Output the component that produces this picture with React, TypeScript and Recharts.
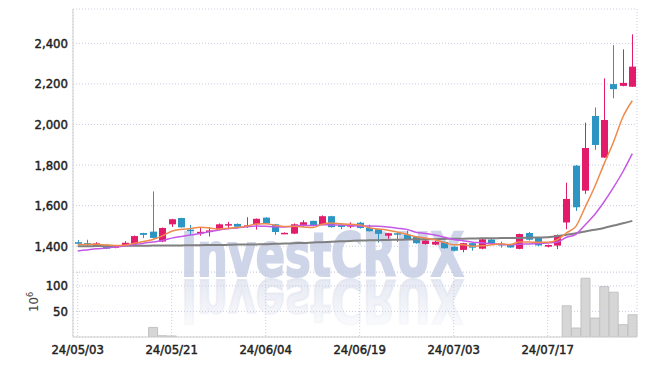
import React from "react";
import { ComposedChart, Bar, Line, XAxis, YAxis, CartesianGrid } from "recharts";

const dates = [
  "24/05/03", "24/05/07", "24/05/08", "24/05/09", "24/05/10", "24/05/13", "24/05/14", "24/05/16", "24/05/17", "24/05/20",
  "24/05/21", "24/05/22", "24/05/23", "24/05/24", "24/05/27", "24/05/28", "24/05/29", "24/05/30", "24/05/31", "24/06/03",
  "24/06/04", "24/06/05", "24/06/07", "24/06/10", "24/06/11", "24/06/12", "24/06/13", "24/06/14", "24/06/17", "24/06/18",
  "24/06/19", "24/06/20", "24/06/21", "24/06/24", "24/06/25", "24/06/26", "24/06/27", "24/06/28", "24/07/01", "24/07/02",
  "24/07/03", "24/07/04", "24/07/05", "24/07/08", "24/07/09", "24/07/10", "24/07/11", "24/07/12", "24/07/15", "24/07/16",
  "24/07/17", "24/07/18", "24/07/19", "24/07/22", "24/07/23", "24/07/24", "24/07/25", "24/07/26", "24/07/29", "24/07/30"
];

const opens = [
  1420, 1415, 1402, 1407, 1393, 1401, 1411, 1465, 1472, 1423,
  1508, 1539, 1482, 1463, 1472, 1482, 1502, 1510, 1495, 1508,
  1541, 1508, 1463, 1462, 1505, 1525, 1505, 1548, 1505, 1500,
  1516, 1490, 1484, 1452, 1464, 1457, 1447, 1411, 1408, 1421,
  1397, 1382, 1415, 1388, 1433, 1412, 1410, 1387, 1465, 1442,
  1398, 1403, 1517, 1797, 1674, 2042, 1837, 2199, 2190, 2186
];
const highs = [
  1430, 1432, 1420, 1410, 1404, 1425, 1453, 1466, 1670, 1492,
  1535, 1540, 1505, 1490, 1495, 1512, 1520, 1512, 1543, 1537,
  1543, 1510, 1468, 1512, 1528, 1526, 1552, 1550, 1507, 1518,
  1520, 1506, 1486, 1466, 1467, 1477, 1450, 1430, 1426, 1424,
  1400, 1417, 1417, 1437, 1436, 1423, 1412, 1462, 1470, 1444,
  1408, 1458, 1713, 1800, 2009, 2084, 2227, 2391, 2370, 2444
];
const lows = [
  1404, 1402, 1398, 1386, 1390, 1399, 1410, 1440, 1438, 1420,
  1495, 1492, 1455, 1452, 1448, 1478, 1489, 1494, 1490, 1482,
  1510, 1456, 1460, 1460, 1495, 1498, 1503, 1492, 1484, 1489,
  1487, 1472, 1418, 1437, 1421, 1430, 1412, 1408, 1405, 1388,
  1375, 1370, 1378, 1385, 1412, 1393, 1392, 1385, 1428, 1400,
  1394, 1386, 1484, 1574, 1658, 1875, 1835, 2129, 2188, 2185
];
const closes = [
  1412, 1407, 1414, 1388, 1400, 1417, 1450, 1456, 1441, 1490,
  1533, 1493, 1476, 1471, 1478, 1508, 1509, 1496, 1503, 1535,
  1512, 1470, 1466, 1508, 1518, 1500, 1548, 1494, 1495, 1504,
  1490, 1474, 1461, 1464, 1460, 1435, 1415, 1428, 1422, 1390,
  1378, 1415, 1393, 1434, 1414, 1404, 1394, 1460, 1432, 1404,
  1406, 1455, 1633, 1592, 1884, 1899, 2022, 2174, 2205, 2285
];

// moving averages
const ma5 = [
  1408, 1409, 1410, 1406, 1404, 1405, 1414, 1423, 1433, 1451,
  1474, 1483, 1487, 1493, 1490, 1485, 1488, 1492, 1499, 1510,
  1511, 1503, 1497, 1498, 1495, 1492, 1508, 1514, 1511, 1508,
  1506, 1491, 1485, 1479, 1470, 1459, 1447, 1440, 1432, 1418,
  1407, 1407, 1400, 1402, 1407, 1412, 1408, 1421, 1421, 1419,
  1419, 1431, 1466, 1498, 1594, 1693, 1806, 1914, 2037, 2117
];
const ma10 = [
  1377, 1382, 1387, 1391, 1396, 1401, 1408, 1415, 1421, 1428,
  1440, 1448, 1455, 1463, 1471, 1480, 1486, 1490, 1496, 1500,
  1498, 1496, 1495, 1499, 1503, 1502, 1506, 1505, 1505, 1502,
  1499, 1500, 1499, 1495, 1489, 1483, 1469, 1463, 1455, 1444,
  1433, 1427, 1420, 1417, 1412, 1409, 1407, 1410, 1411, 1413,
  1416, 1420, 1444, 1459, 1506, 1556, 1619, 1690, 1767, 1856
];
const ma60 = [
  1400, 1400, 1401, 1401, 1401, 1402, 1402, 1402, 1403, 1403,
  1404, 1404, 1405, 1405, 1406, 1406, 1407, 1408, 1408, 1409,
  1410, 1412, 1413, 1415, 1416, 1418, 1420, 1422, 1424, 1426,
  1428, 1429, 1430, 1431, 1432, 1433, 1434, 1434, 1435, 1436,
  1437, 1437, 1438, 1439, 1439, 1440, 1441, 1441, 1442, 1443,
  1444, 1450, 1457, 1464, 1473, 1481, 1490, 1502, 1513, 1525
];

// volume, 10^6
const volumes = [
  0, 0, 0, 0, 0, 0, 0, 0, 18.7, 2.5,
  2, 0, 0, 0, 0, 0, 0, 0, 0, 0,
  0, 0, 0, 0, 0, 0, 0, 0, 0, 0,
  0, 0, 0, 0, 0, 0, 0, 0, 0, 0,
  0, 0, 0, 0, 0, 0, 0, 0, 0, 0,
  0, 0, 61, 17.5, 114.8, 37, 98.4, 87.5, 24, 43.4
];

const tickDates = ["24/05/03", "24/05/21", "24/06/04", "24/06/19", "24/07/03", "24/07/17"];
const priceTicks = [1400, 1600, 1800, 2000, 2200, 2400];
const volTicks = [50, 100];

const rows = dates.map((date, i) => ({
  date,
  open: opens[i],
  high: highs[i],
  low: lows[i],
  close: closes[i],
  range: [lows[i], highs[i]],
  ma5: ma5[i],
  ma10: ma10[i],
  ma60: ma60[i],
  vol: volumes[i]
}));

const UP = "#e31b6b";
const DOWN = "#2c95c4";
const FONT = "'DejaVu Sans Condensed', 'DejaVu Sans', sans-serif";
const GRID = "#c8cce0";
const FRAME = "#cfcfcf";

function Candle(props: any) {
  const { x, y, width, height, payload } = props;
  const { open, close, high, low } = payload;
  const top = Math.min(y, y + height);
  const h = Math.abs(height);
  const k = high > low ? h / (high - low) : 0;
  const color = close >= open ? UP : DOWN;
  const bodyTop = top + (high - Math.max(open, close)) * k;
  const bodyH = Math.max(1.5, Math.abs(open - close) * k);
  const cx = Math.round(x + width / 2) + 0.5;
  const bw = 7;
  return (
    <g>
      <line x1={cx} x2={cx} y1={top} y2={top + h} stroke={color} strokeWidth={1} />
      <rect x={cx - bw / 2} y={bodyTop} width={bw} height={bodyH} fill={color} />
    </g>
  );
}

function Watermark() {
  return (
    <svg width={647} height={366} style={{ position: "absolute", left: 0, top: 0 }}>
      <defs>
        <linearGradient id="fade" x1="0" y1="0" x2="0" y2="1">
          <stop offset="0" stopColor="#e0e4f0" stopOpacity={0} />
          <stop offset="1" stopColor="#e0e4f0" stopOpacity={1} />
        </linearGradient>
        <text id="wm" x={181} y={276} fontFamily="'DejaVu Sans Condensed', 'DejaVu Sans', sans-serif" fontWeight="bold" fontSize={60}
          textLength={283} lengthAdjust="spacingAndGlyphs" strokeWidth={2}>InvestCRUX</text>
      </defs>
      <use href="#wm" fill="#cfd5e8" stroke="#cfd5e8" />
      <use href="#wm" transform="translate(0,556) scale(1,-1)" fill="url(#fade)" stroke="url(#fade)" />
      <text transform="translate(38,312) rotate(-90)" fontFamily={FONT} fontSize={13} fill="#444">
        10<tspan dy={-5} fontSize={9}>6</tspan>
      </text>
    </svg>
  );
}

export default function App() {
  const tickStyle = { fill: "#222", stroke: "#222", strokeWidth: 0.45, fontSize: 13, fontFamily: FONT };
  return (
    <div style={{ position: "absolute", left: 0, top: 0, width: 647, height: 366, background: "#fff" }}>
      <Watermark />
      <div style={{ position: "absolute", left: 0, top: 0 }}>
        <ComposedChart width={647} height={273} data={rows} margin={{ top: 9, right: 10, bottom: 1, left: 0 }} barCategoryGap={0}>
          <CartesianGrid stroke={GRID} strokeDasharray="1 2" />
          <XAxis dataKey="date" orientation="top" height={0} ticks={tickDates} interval={0} tick={false} tickLine={false} axisLine={{ stroke: FRAME }} />
          <XAxis xAxisId="sep" dataKey="date" height={0} tick={false} tickLine={false} axisLine={{ stroke: FRAME }} />
          <YAxis domain={[1273, 2569]} ticks={priceTicks} allowDataOverflow width={73} tickLine={false} tickSize={4} tickMargin={1}
            axisLine={{ stroke: FRAME }} tick={tickStyle} tickFormatter={(v: number) => v.toLocaleString("en-US")} />
          <YAxis yAxisId="r" orientation="right" width={0} tick={false} tickLine={false} axisLine={{ stroke: FRAME }} />
          <Bar dataKey="range" shape={Candle} isAnimationActive={false} />
          <Line dataKey="ma60" type="monotone" stroke="#808080" strokeWidth={2} dot={false} isAnimationActive={false} />
          <Line dataKey="ma10" type="monotone" stroke="#c558e6" strokeWidth={1.5} dot={false} isAnimationActive={false} />
          <Line dataKey="ma5" type="monotone" stroke="#f08a4b" strokeWidth={1.5} dot={false} isAnimationActive={false} />
        </ComposedChart>
      </div>
      <div style={{ position: "absolute", left: 0, top: 272 }}>
        <ComposedChart width={647} height={94} data={rows} margin={{ top: 0, right: 10, bottom: 0, left: 0 }} barCategoryGap="4%">
          <CartesianGrid stroke={GRID} strokeDasharray="1 2" />
          <XAxis dataKey="date" ticks={tickDates} interval={0} height={29} tickLine={false} axisLine={{ stroke: FRAME }} tick={tickStyle} />
          <YAxis domain={[0, 127]} ticks={volTicks} allowDataOverflow width={73} tickLine={false} tickSize={4} tickMargin={1}
            axisLine={{ stroke: FRAME }} tick={tickStyle} />
          <YAxis yAxisId="r" orientation="right" width={0} tick={false} tickLine={false} axisLine={{ stroke: FRAME }} />
          <Bar dataKey="vol" fill="#d6d6d6" stroke="#c2c2c2" strokeWidth={1} isAnimationActive={false} />
        </ComposedChart>
      </div>
    </div>
  );
}
